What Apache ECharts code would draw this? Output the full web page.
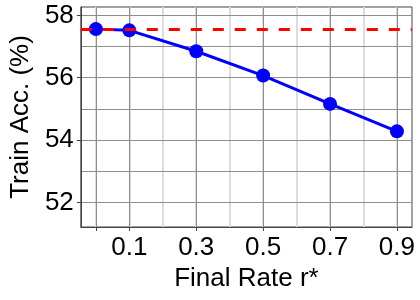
<!DOCTYPE html>
<html><head><meta charset="utf-8">
<script src="https://cdn.jsdelivr.net/npm/echarts@6/dist/echarts.min.js"></script>
<style>html,body{margin:0;padding:0;background:#fff}#c{width:420px;height:300px}</style>
</head><body><div id="c"></div>
<script>
const rates = [0, 0.1, 0.3, 0.5, 0.7, 0.9];
const trainAcc = [57.56, 57.52, 56.85, 56.07, 55.16, 54.28];
const baselineAcc = 57.56;
const xTickLabels = [0.1, 0.3, 0.5, 0.7, 0.9];
const xMajorTicks = [0, 0.1, 0.3, 0.5, 0.7, 0.9];
const xMinorGrid = [0, 0.1, 0.2, 0.3, 0.4, 0.5, 0.6, 0.7, 0.8, 0.9];
const yTickLabels = [52, 54, 56, 58];
const yGrid = [52, 53, 54, 55, 56, 57, 58];

const FONT = 'Liberation Sans';
const chart = echarts.init(document.getElementById('c'), null, {renderer: 'canvas'});
const xMin = -0.045, xMax = 0.945, yMin = 51.21, yMax = 58.27;

chart.setOption({
  animation: false,
  grid: {left: 76, right: 8, top: 7, bottom: 73, show: true, borderColor: '#444', borderWidth: 1, backgroundColor: 'transparent'},
  xAxis: [
    {
      type: 'value', min: xMin, max: xMax, position: 'top', z: 0,
      axisLine: {show: false},
      axisTick: {show: false, customValues: xMinorGrid},
      axisLabel: {show: false, customValues: xMinorGrid},
      splitLine: {show: true, lineStyle: {color: '#dcdcdc', width: 2}}
    },
    {
      type: 'value', min: xMin, max: xMax, position: 'bottom', z: 1,
      name: 'Final Rate r*', nameLocation: 'middle', nameGap: 36,
      nameTextStyle: {fontFamily: FONT, fontSize: 26, color: '#000'},
      axisLine: {show: true, onZero: false, lineStyle: {color: '#444', width: 1}},
      axisTick: {show: true, length: 4, customValues: xMajorTicks, lineStyle: {color: '#444'}},
      axisLabel: {show: true, customValues: xTickLabels, margin: 8, fontFamily: FONT, fontSize: 26, color: '#000',
        formatter: v => Number(v).toFixed(1)},
      splitLine: {show: true, lineStyle: {color: '#8e8e8e', width: 1}}
    }
  ],
  yAxis: [
    {
      type: 'value', min: yMin, max: yMax, position: 'left', z: 1,
      name: 'Train Acc. (%)', nameLocation: 'middle', nameGap: 46,
      nameTextStyle: {fontFamily: FONT, fontSize: 26, color: '#000'},
      axisLine: {show: true, onZero: false, lineStyle: {color: '#444', width: 1}},
      axisTick: {show: true, length: 4, customValues: yTickLabels, lineStyle: {color: '#444'}},
      axisLabel: {show: true, customValues: yTickLabels, margin: 7, fontFamily: FONT, fontSize: 26, color: '#000'},
      splitLine: {show: false}
    },
    {
      type: 'value', min: yMin, max: yMax, position: 'right', z: 1,
      axisLine: {show: false},
      axisTick: {show: false, customValues: yGrid},
      axisLabel: {show: false, customValues: yGrid},
      splitLine: {show: true, lineStyle: {color: '#8e8e8e', width: 1}}
    }
  ],
  series: [
    {
      type: 'line', xAxisIndex: 1, yAxisIndex: 0, data: [], z: 2,
      markLine: {
        silent: true, symbol: 'none', label: {show: false},
        lineStyle: {color: '#ff0000', width: 3, type: [11, 11]},
        data: [{yAxis: baselineAcc}]
      }
    },
    {
      type: 'line', xAxisIndex: 1, yAxisIndex: 0, z: 3,
      data: rates.map((r, i) => [r, trainAcc[i]]),
      lineStyle: {color: '#0000ff', width: 3},
      itemStyle: {color: '#0000ff'},
      symbol: 'circle', symbolSize: 14, showSymbol: true
    }
  ]
});
</script></body></html>
